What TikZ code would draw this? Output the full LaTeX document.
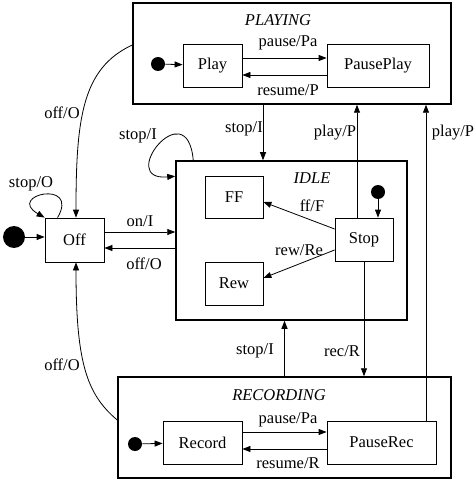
\documentclass[tikz,border=0pt]{standalone}
\usepackage{fontspec}
\setmainfont{Liberation Serif}
\usetikzlibrary{arrows.meta,calc}
\newcommand{\connectinit}[2]{%
  \draw[->] (#1) -- (#2)}
\newcommand{\connectvert}[2]{%
  \draw[->] (#1) -- (#1 |- #2)}

\begin{document}
\begin{tikzpicture}[x=1pt, y=1pt,
    state/.style={rectangle, draw, line width=0.8pt, minimum height=43pt,
    inner sep=0pt},
    super/.style={rectangle, draw, line width=1.5pt, inner sep=0pt},
    title/.style={font=\fontsize{16.5}{19}\selectfont\itshape},
    initial/.style={circle, fill, inner sep=0pt},
    font=\fontsize{16.5}{19}\selectfont, line width=0.8pt,
    >={Triangle[length=8pt,width=6pt]}]
  \useasboundingbox (0,0) rectangle (474,-481);

  % PLAYING
  \node[super, minimum width=318pt, minimum height=101pt] (playing) at (292,-53.5) {};
  \node[title] (playing-title) at (278,-20) {PLAYING};
  \node[state, minimum width=59pt] (play) at (212.5,-65.5) {Play};
  \node[state, minimum width=102pt] (pauseplay) at (378,-65.5) {PausePlay};
  \node[initial, minimum size=14pt] (playing-init) at (158,-64) {};

  \connectinit{playing-init}{play};
  \draw[->] ([yshift=7.5pt]play.east) -- ([yshift=7.5pt]pauseplay.west);
  \draw[->] ([yshift=-9.5pt]pauseplay.west) -- ([yshift=-9.5pt]play.east);
  \node (l-pause-play) at (288,-43) {pause/Pa};
  \node (l-resume-play) at (288,-90) {resume/P};

  % IDLE
  \node[super, minimum width=231pt, minimum height=159pt] (idle) at (291.5,-240.5) {};
  \node[title] (idle-title) at (312,-178) {IDLE};
  \node[state, minimum width=58pt, minimum height=42pt] (ff) at (234,-197) {FF};
  \node[state, minimum width=58pt] (rew) at (234,-283.5) {Rew};
  \node[state, minimum width=58pt] (stop) at (364,-239.5) {Stop};
  \node[initial, minimum size=14pt] (idle-init) at (378,-192) {};

  \connectvert{idle-init}{stop.north};
  \draw[->] ([yshift=10.5pt]stop.west) -- ([yshift=-5pt]ff.east);
  \draw[->] ([yshift=-10.5pt]stop.west) -- ([yshift=5.5pt]rew.east);
  \node (l-ff) at (312,-206) {ff/F};
  \node (l-rew) at (299,-250) {rew/Re};

  % Off
  \node[state, minimum width=59pt, minimum height=44pt] (off) at (74.5,-240) {Off};
  \node[initial, minimum size=22pt] (off-init) at (14,-237) {};

  \draw[->] (off-init) -- (off-init -| off.west);
  \draw[->] ([xshift=13pt]off.north west) .. controls +(60:45) and +(150:45) .. (off.north west);
  \node (l-stop-off) at (31,-184) {stop/O};
  \draw[->] ([yshift=8pt]off.east) -- ([yshift=8pt]off.east -| idle.west);
  \draw[->] ([yshift=-8pt]off.east -| idle.west) -- ([yshift=-8pt]off.east);
  \node (l-on) at (140,-221) {on/I};
  \node (l-off-idle) at (144,-264) {off/O};
  \draw[->] ([xshift=18pt]idle.north west) .. controls +(95:70) and +(185:60) .. ([yshift=-16pt]idle.north west);
  \node (l-stop-idle) at (138,-136) {stop/I};

  % RECORDING
  \node[super, minimum width=333pt, minimum height=101pt] (recording) at (284.5,-427.5) {};
  \node[title] (recording-title) at (279,-395) {RECORDING};
  \node[state, minimum width=79pt] (record) at (202.5,-442.5) {Record};
  \node[state, minimum width=109pt] (pauserec) at (381.5,-442.5) {PauseRec};
  \node[initial, minimum size=14pt] (recording-init) at (135,-444) {};

  \connectinit{recording-init}{record};
  \draw[->] ([yshift=10.5pt]record.east) -- ([yshift=10.5pt]pauserec.west);
  \draw[->] ([yshift=-6.5pt]pauserec.west) -- ([yshift=-6.5pt]record.east);
  \node (l-pause-rec) at (288,-420) {pause/Pa};
  \node (l-resume-rec) at (288,-463) {resume/R};

  % between the super states
  \coordinate (stop-playing) at ([xshift=-29pt]playing.south);
  \coordinate (play-stop) at ([xshift=-7pt]stop.north);
  \coordinate (play-rec) at ([xshift=44.5pt]pauserec.north);
  \connectvert{stop-playing}{idle.north};
  \connectvert{play-stop}{playing.south};
  \connectvert{play-rec}{playing.south};
  \connectvert{stop.south}{recording.north};
  \connectvert{recording.north}{idle.south};
  \node (l-stop-playing) at (244,-129) {stop/I};
  \node (l-play-stop) at (335,-133) {play/P};
  \node (l-play-rec) at (453,-133) {play/P};
  \node (l-rec) at (342,-351) {rec/R};
  \node (l-stop-rec) at (255,-351) {stop/I};

  \draw[->] ([yshift=8.5pt]playing.west) .. controls +(205:55) and +(90:100) .. ([xshift=1.5pt]off.north);
  \draw[->] ([yshift=7.5pt]recording.west) .. controls +(140:40) and +(-90:100) .. ([xshift=1.5pt]off.south);
  \node (l-off-playing) at (62,-113) {off/O};
  \node (l-off-rec) at (62,-365) {off/O};
\end{tikzpicture}
\end{document}
